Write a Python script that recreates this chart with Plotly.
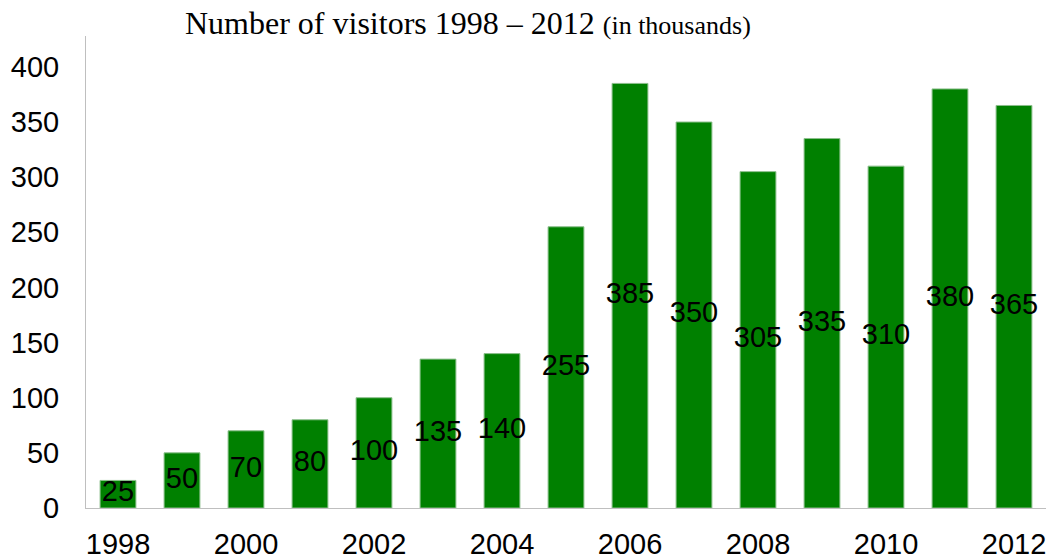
import plotly.graph_objects as go

years = [1998, 1999, 2000, 2001, 2002, 2003, 2004, 2005, 2006, 2007, 2008, 2009, 2010, 2011, 2012]
visitors = [25, 50, 70, 80, 100, 135, 140, 255, 385, 350, 305, 335, 310, 380, 365]
y_ticks = [0, 50, 100, 150, 200, 250, 300, 350, 400]
x_ticks = [1998, 2000, 2002, 2004, 2006, 2008, 2010, 2012]

W, H = 1050, 559
ML, MR, MT, MB = 86, 4, 36, 51

fig = go.Figure()
fig.add_trace(go.Bar(
    x=years, y=visitors,
    marker=dict(color="#008000", line=dict(color="#8cbf8c", width=1)),
    width=0.56, hoverinfo="x+y",
))
# value labels sit at half the bar height and may overflow narrow bars
fig.add_trace(go.Scatter(
    x=years, y=[v / 2 for v in visitors],
    mode="text", text=[str(v) for v in visitors],
    textfont=dict(family="Liberation Sans, Arial", size=29, color="#000000"),
    textposition="middle center", hoverinfo="skip",
))

fig.update_layout(
    width=W, height=H,
    margin=dict(l=ML, r=MR, t=MT, b=MB, pad=0),
    paper_bgcolor="white", plot_bgcolor="white",
    showlegend=False,
    font=dict(family="Liberation Sans, Arial", size=29, color="#000000"),
    xaxis=dict(
        range=[1997.5, 2012.5], tickvals=x_ticks, ticktext=[str(t) for t in x_ticks],
        showgrid=False, zeroline=False, showline=True, linecolor="#bfbfbf", linewidth=1,
        ticks="", ticklabelstandoff=10, automargin=False,
    ),
    yaxis=dict(
        range=[0, 428], tickvals=y_ticks, ticktext=[str(t) for t in y_ticks],
        showgrid=False, zeroline=False, showline=True, linecolor="#bfbfbf", linewidth=1,
        ticks="", ticklabelstandoff=20, automargin=False,
    ),
    annotations=[dict(
        xref="paper", yref="paper", x=(183 - ML) / (W - ML - MR), y=1,
        xanchor="left", yanchor="bottom", yshift=-7, showarrow=False,
        text="Number of visitors 1998 \u2013 2012 <span style='font-size:26px'>(in thousands)</span>",
        font=dict(family="Liberation Serif, Times New Roman", size=32, color="#000000"),
    )],
)

fig.write_html("out.html")
